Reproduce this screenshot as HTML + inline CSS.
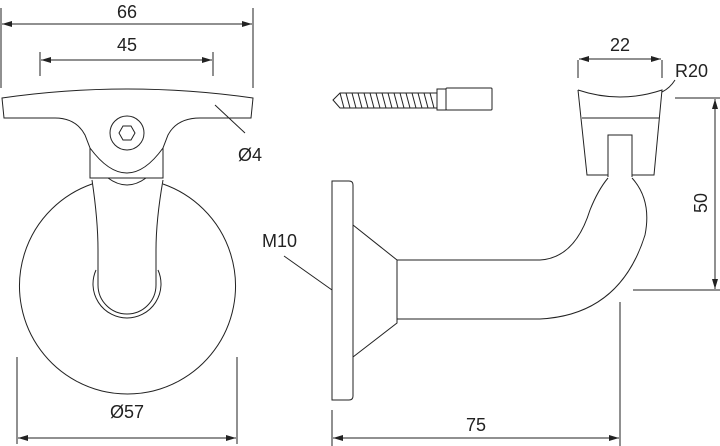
<!DOCTYPE html>
<html><head><meta charset="utf-8"><style>
html,body{margin:0;padding:0;background:#fff;width:720px;height:446px;overflow:hidden}
svg{display:block}
text{font-family:"Liberation Sans",sans-serif;fill:#222;font-size:18px}
</style></head><body>
<svg width="720" height="446" viewBox="0 0 720 446" xmlns="http://www.w3.org/2000/svg">
<defs>
<marker id="a" viewBox="0 0 10 6" refX="10" refY="3" markerWidth="10" markerHeight="6" orient="auto-start-reverse" markerUnits="userSpaceOnUse"><path d="M0,0L10,3L0,6z" fill="#222"/></marker>
</defs>
<g fill="none" stroke="#222" stroke-width="1">
<line x1="1" y1="8" x2="1" y2="88"/><line x1="253" y1="8" x2="253" y2="88"/>
<line x1="2" y1="24" x2="252" y2="24" marker-start="url(#a)" marker-end="url(#a)"/>
<line x1="40" y1="52" x2="40" y2="76"/><line x1="213" y1="52" x2="213" y2="76"/>
<line x1="41" y1="60" x2="212" y2="60" marker-start="url(#a)" marker-end="url(#a)"/>
<path d="M2,98 Q127,80 253,98 L251,118 L200,118 Q177,118 168,135 L163,148 L163,178 L90,178 L90,148 L85,135 Q76,118 55,118 L4,118 Z"/>
<path d="M90,148 Q127,198 163,148"/>
<circle cx="127" cy="133" r="17"/>
<polygon points="135,133 131,140 123,140 119,133 123,126 131,126"/>
<path d="M108,178 Q127,192 146,178"/>
<path d="M92,184 A108,108 0 1 0 163,184"/>
<path d="M92,180 Q98,220 98,250 L98,285 A29,29 0 0 0 156,285 L156,250 Q156,220 163,180"/>
<path d="M96,270 A34,34 0 1 0 158,270"/>
<line x1="215" y1="105" x2="245" y2="133"/>
<line x1="17" y1="357" x2="17" y2="444"/><line x1="237" y1="357" x2="237" y2="444"/>
<line x1="18" y1="438" x2="236" y2="438" marker-start="url(#a)" marker-end="url(#a)"/>
<path d="M333,100 L340,93 L437,93 L437,108 L340,108 Z"/>
<path d="M340,93 l4,15 M346,93 l4,15 M352,93 l4,15 M358,93 l4,15 M364,93 l4,15 M370,93 l4,15 M376,93 l4,15 M382,93 l4,15 M388,93 l4,15 M394,93 l4,15 M400,93 l4,15 M406,93 l4,15 M412,93 l4,15 M418,93 l4,15 M424,93 l4,15 M430,93 l4,15"/>
<rect x="437" y="89" width="9" height="21"/>
<rect x="446" y="88" width="46" height="22" rx="1"/>
<path d="M332,181 L349,181 Q353,181 353,185 L353,396 Q353,400 349,400 L332,400 Z"/>
<path d="M353,225 L397,260 L397,323 L353,357"/>
<path d="M397,260 L540,260 Q575,258 590,210 Q598,190 608,178"/>
<path d="M397,319 L540,319 Q620,315 645,235 Q652,200 632,178"/>
<path d="M608,177 L608,135 L632,135 L632,177"/>
<path d="M578,90 Q620,104 662,90 L654,175 L632,175"/>
<path d="M608,175 L587,175 L578,90"/>
<line x1="582" y1="118" x2="659" y2="118"/>
<line x1="578" y1="60" x2="578" y2="78"/><line x1="662" y1="60" x2="662" y2="78"/>
<line x1="579" y1="59" x2="661" y2="59" marker-start="url(#a)" marker-end="url(#a)"/>
<path d="M662,92 Q670,88 675,80"/>
<line x1="675" y1="98" x2="720" y2="98"/><line x1="633" y1="290" x2="720" y2="290"/>
<line x1="715" y1="99" x2="715" y2="289" marker-start="url(#a)" marker-end="url(#a)"/>
<line x1="284" y1="256" x2="332" y2="290"/>
<line x1="332" y1="410" x2="332" y2="446"/><line x1="620" y1="302" x2="620" y2="446"/>
<line x1="333" y1="438" x2="619" y2="438" marker-start="url(#a)" marker-end="url(#a)"/>
</g>
<text x="127" y="18" text-anchor="middle">66</text>
<text x="127" y="51" text-anchor="middle">45</text>
<text x="238" y="161">Ø4</text>
<text x="127" y="418" text-anchor="middle">Ø57</text>
<text x="620" y="51" text-anchor="middle">22</text>
<text x="675" y="77">R20</text>
<text x="262" y="247">M10</text>
<text x="476" y="431" text-anchor="middle">75</text>
<text transform="translate(707,203) rotate(-90)" text-anchor="middle">50</text>
</svg>
</body></html>
